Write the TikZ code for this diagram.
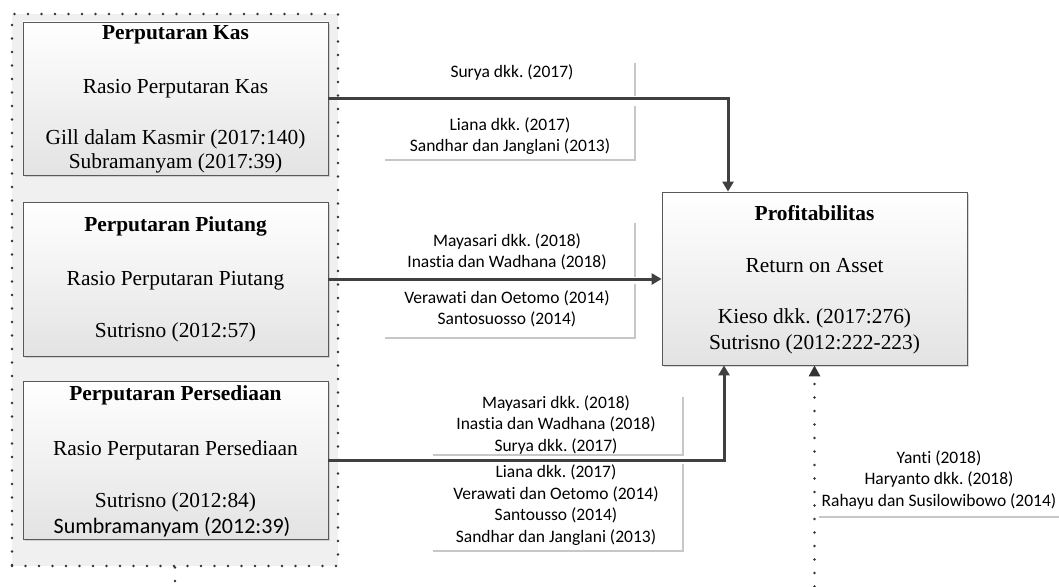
\documentclass[tikz,border=0pt]{standalone}
\usepackage{fontspec}
\setmainfont{Liberation Serif}
\newfontfamily\refont[Ligatures=NoCommon]{Carlito}
\usepackage{tikz}
\usetikzlibrary{positioning,arrows.meta,shadows}
\frenchspacing

\tikzset{
  box/.style={draw=black!65, line width=0.8pt, top color=white, bottom color=black!11,
    minimum width=305pt, drop shadow={shadow xshift=2pt, shadow yshift=-2pt, fill=black!30, opacity=0.5}},
  ttl/.style={font=\fontsize{21.4}{25}\selectfont\bfseries, inner sep=0pt},
  txt/.style={font=\fontsize{21.4}{25}\selectfont, inner sep=0pt},
  cite/.style={font=\refont\fontsize{17.5}{21.5}\selectfont, align=center, inner sep=0pt},
  conn/.style={draw=black!75, line width=3pt, -{Triangle[length=10pt,width=11pt]}},
  dots/.style={draw=black!80, line width=2.8pt, line cap=round, dash pattern=on 0pt off 13.5pt},
  rule/.style={draw=black!22, line width=1.5pt},
}

\begin{document}
\begin{tikzpicture}[x=1pt, y=-1pt]
    \useasboundingbox (0,0) rectangle (1059,586);

    % Variable frame
    \node[dots, fill=black!6, minimum width=326pt, minimum height=552pt, inner sep=0pt] (frame) at (175,290) {};
    \draw[dots] (frame.south) -- ++(0,22);

    % Perputaran Kas
    \node[box, minimum height=153pt] (kas) at (175.5,98.5) {};
    \node[ttl] (kas-t) at (175.5,35) {Perputaran Kas};
    \node[txt] (kas-r) at (175.5,89) {Rasio Perputaran Kas};
    \node[txt] (kas-a) at (175.5,139) {Gill dalam Kasmir (2017:140)};
    \node[txt] (kas-b) at (175.5,163) {Subramanyam (2017:39)};

    % Perputaran Piutang
    \node[box, minimum height=154pt] (piutang) at (175.5,279) {};
    \node[ttl] (piutang-t) at (175.5,226) {Perputaran Piutang};
    \node[txt] (piutang-r) at (175.5,281) {Rasio Perputaran Piutang};
    \node[txt] (piutang-a) at (175.5,332) {Sutrisno (2012:57)};

    % Perputaran Persediaan
    \node[box, minimum height=158pt] (sedia) at (175.5,460) {};
    \node[ttl] (sedia-t) at (175.5,395) {Perputaran Persediaan};
    \node[txt] (sedia-r) at (175.5,450) {Rasio Perputaran Persediaan};
    \node[txt] (sedia-a) at (175.5,502) {Sutrisno (2012:84)};
    \node[cite, font=\refont\fontsize{22}{26}\selectfont] (sedia-b) at (172,527) {Sumbramanyam (2012:39)};

    % Profitabilitas
    \node[box, minimum height=173pt] (profit) at (814.5,278.5) {};
    \node[ttl] (profit-t) at (814.5,213) {Profitabilitas};
    \node[txt] (profit-r) at (814.5,266) {Return on Asset};
    \node[txt] (profit-a) at (814.5,318) {Kieso dkk. (2017:276)};
    \node[txt] (profit-b) at (814.5,344) {Sutrisno (2012:222-223)};

    % Connectors
    \draw[conn] (kas.east) -| ([xshift=-86.5pt]profit.north);
    \draw[conn] (piutang.east) -- (piutang.east -| profit.west);
    \draw[conn] (sedia.east) -| ([xshift=-90.5pt]profit.south);
    \coordinate (yb) at (814.5,600);
    \draw[dots, -{Triangle[length=11pt,width=11pt]}] (yb) -- (profit.south);

    % References for Perputaran Kas
    \node[cite] (ref-1a) at (512,73) {Surya dkk. (2017)};
    \node[cite] (ref-1b) at (510,136) {Liana dkk. (2017)\\Sandhar dan Janglani (2013)};
    \draw[rule] (635,63) -- (635,96);
    \draw[rule] (635,106) -- (635,160) -- (385,160);

    % References for Perputaran Piutang
    \node[cite] (ref-2a) at (507,252) {Mayasari dkk. (2018)\\Inastia dan Wadhana (2018)};
    \node[cite] (ref-2b) at (507,309) {Verawati dan Oetomo (2014)\\Santosuosso (2014)};
    \draw[rule] (635,223) -- (635,277);
    \draw[rule] (635,284) -- (635,338) -- (385,338);

    % References for Perputaran Persediaan
    \node[cite] (ref-3a) at (556,425) {Mayasari dkk. (2018)\\Inastia dan Wadhana (2018)\\Surya dkk. (2017)};
    \node[cite] (ref-3b) at (556,505) {Liana dkk. (2017)\\Verawati dan Oetomo (2014)\\Santousso (2014)\\Sandhar dan Janglani (2013)};
    \draw[rule] (683,397) -- (683,455) -- (433,455);
    \draw[rule] (683,464) -- (683,551) -- (433,551);

    % Control references
    \node[cite] (ref-4) at (939,480) {Yanti (2018)\\Haryanto dkk. (2018)\\Rahayu dan Susilowibowo (2014)};
    \draw[rule] (819,517) -- (1059,517);
\end{tikzpicture}
\end{document}
